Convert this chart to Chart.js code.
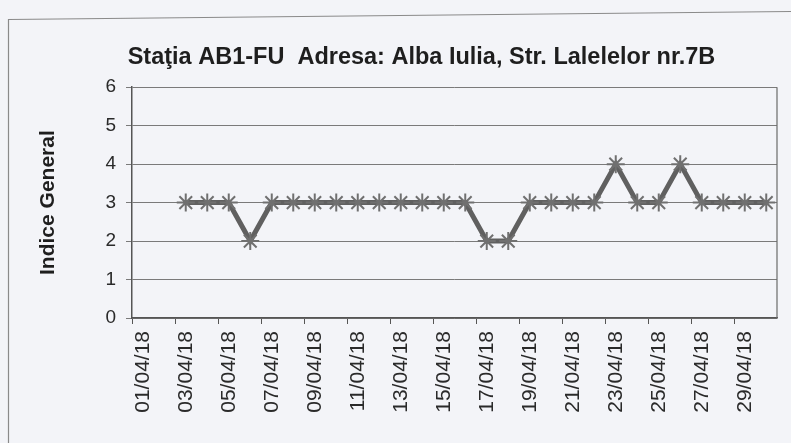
<!DOCTYPE html>
<html>
<head>
<meta charset="utf-8">
<script src="https://cdn.jsdelivr.net/npm/chart.js@4/dist/chart.umd.min.js"></script>
<style>
  html, body { margin: 0; padding: 0; background: #f3f4f8; }
  #wrap { position: relative; width: 791px; height: 443px; }
</style>
</head>
<body>
<div id="wrap"><canvas id="c" width="791" height="443"></canvas></div>
<script>
const dates = ["01/04/18","02/04/18","03/04/18","04/04/18","05/04/18","06/04/18","07/04/18","08/04/18","09/04/18","10/04/18",
  "11/04/18","12/04/18","13/04/18","14/04/18","15/04/18","16/04/18","17/04/18","18/04/18","19/04/18","20/04/18",
  "21/04/18","22/04/18","23/04/18","24/04/18","25/04/18","26/04/18","27/04/18","28/04/18","29/04/18","30/04/18"];
const indiceGeneral = [null,null,3,3,3,2,3,3,3,3,
  3,3,3,3,3,3,2,2,3,3,
  3,3,4,3,3,4,3,3,3,3];
const yTicks = [0,1,2,3,4,5,6];
const chartTitle = "Staţia AB1-FU  Adresa: Alba Iulia, Str. Lalelelor nr.7B";
const yTitle = "Indice General";

const PLOT_LEFT = 132, PLOT_RIGHT = 777, PLOT_TOP = 87, PLOT_BOTTOM = 318;
const PAD_L = 66, PAD_R = 791 - PLOT_RIGHT;
const TITLE_SIZE = 23.5;

const framePlugin = {
  id: 'frame',
  beforeDraw(chart) {
    const ctx = chart.ctx;
    ctx.save();
    ctx.fillStyle = '#f3f4f8';
    ctx.fillRect(0, 0, chart.width, chart.height);
    ctx.strokeStyle = '#8a8a8a';
    ctx.lineWidth = 1.2;
    ctx.beginPath();
    ctx.moveTo(8.5, 443);
    ctx.lineTo(8.5, 19.5);
    ctx.lineTo(791, 11.5);
    ctx.stroke();
    ctx.restore();
  },
  beforeDatasetsDraw(chart) {
    const a = chart.chartArea, ctx = chart.ctx;
    ctx.save();
    ctx.strokeStyle = '#6a6a6a';
    ctx.lineWidth = 1.2;
    ctx.beginPath();
    ctx.moveTo(a.right, a.top);
    ctx.lineTo(a.right, a.bottom);
    ctx.stroke();
    ctx.restore();
  }
};

new Chart(document.getElementById('c'), {
  type: 'line',
  data: {
    labels: dates,
    datasets: [{
      data: indiceGeneral,
      borderColor: '#606060',
      borderWidth: 5,
      pointStyle: 'star',
      pointRadius: 9,
      pointBorderWidth: 2,
      pointBorderColor: '#707070',
      pointBackgroundColor: '#707070',
      tension: 0,
      spanGaps: false
    }]
  },
  options: {
    responsive: false,
    animation: false,
    devicePixelRatio: 1,
    layout: { padding: { left: PAD_L, right: PAD_R, top: 0, bottom: 0 } },
    plugins: {
      legend: { display: false },
      tooltip: { enabled: false },
      title: {
        display: true,
        text: chartTitle,
        color: '#1e1e1e',
        font: { family: 'Liberation Sans, Arial, sans-serif', size: TITLE_SIZE, weight: 'bold', lineHeight: 1.2 },
        padding: { top: 43, bottom: PLOT_TOP - 43 - Math.round(TITLE_SIZE * 1.2) }
      }
    },
    scales: {
      x: {
        offset: true,
        afterFit(s) { s.height = 443 - PLOT_BOTTOM; s.paddingLeft = 0; s.paddingRight = 0; },
        grid: {
          offset: true,
          drawOnChartArea: false,
          drawTicks: true,
          tickLength: 6,
          color: (c) => (c.index % 2 === 0 ? '#555' : 'rgba(0,0,0,0)')
        },
        border: { display: true, color: '#555', width: 1.5 },
        ticks: {
          autoSkip: false,
          maxRotation: 90,
          minRotation: 90,
          padding: 7,
          color: '#2a2a2a',
          font: { family: 'Liberation Sans, Arial, sans-serif', size: 21 },
          callback: function(v, i) { return i % 2 === 0 ? this.getLabelForValue(v) : ''; }
        }
      },
      y: {
        min: 0, max: 6,
        afterFit(s) { s.width = PLOT_LEFT - PAD_L; s.paddingTop = 0; s.paddingBottom = 0; },
        afterBuildTicks(s) { s.ticks = yTicks.map(v => ({ value: v })); },
        grid: { color: '#7a7a7a', lineWidth: 1, tickLength: 6 },
        border: { display: true, color: '#555', width: 1.5 },
        ticks: {
          padding: 10,
          color: '#2a2a2a',
          font: { family: 'Liberation Sans, Arial, sans-serif', size: 19 }
        },
        title: {
          display: true,
          text: yTitle,
          color: '#1e1e1e',
          font: { family: 'Liberation Sans, Arial, sans-serif', size: 21, weight: 'bold' },
          padding: { top: -30, bottom: 0 }
        }
      }
    }
  },
  plugins: [framePlugin]
});
</script>
</body>
</html>
